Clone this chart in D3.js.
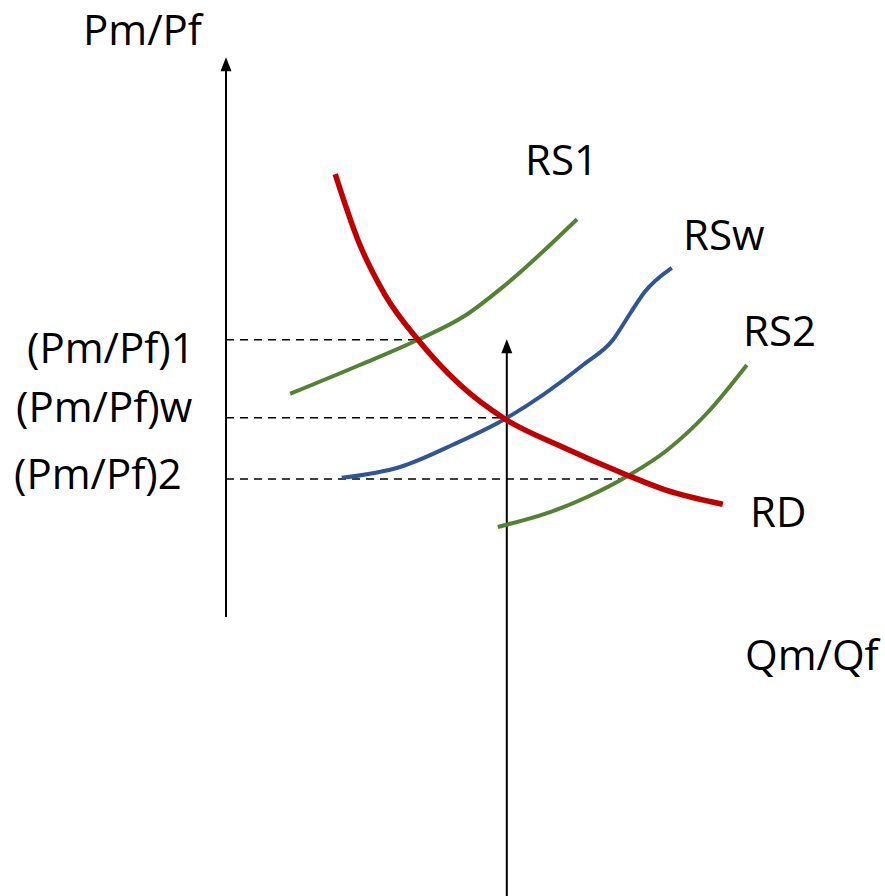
<!DOCTYPE html>
<html lang="en">
<head>
    <meta charset="UTF-8">
    <title>Relative supply and demand</title>
    <script src="https://d3js.org/d3.v7.min.js"></script>
    <style>
        body { margin: 0; background: #fff; }
        text { font-family: "Open Sans", sans-serif; font-size: 42px; fill: #000; }
    </style>
</head>
<body>
<svg id="chart" width="885" height="896"></svg>

<script>
    // curves, in chart units (Qm/Qf, Pm/Pf)
    const rd  = [[18.2,73.8],[22,62.8],[26.5,53.7],[32,46.2],[39,38.7],[46.5,33],[55.7,28.5],[66.5,23.8],[73.2,21.2],[82.8,18.8]];
    const rs1 = [[10.7,37.2],[22.3,42],[32,46.2],[39.8,50.2],[46.5,55.3],[58.5,66.3]];
    const rsw = [[19.3,23.2],[29,25],[37.8,28.7],[46.5,33],[59.5,42],[64.5,46.2],[67.3,50.5],[69.8,54.2],[74.3,58.2]];
    const rs2 = [[45.3,15],[53.5,17.3],[60.2,20],[67.3,23.7],[73.5,27.8],[80.2,34],[86.8,42]];

    // equilibrium price levels and where the dashed guide stops
    const levels = ["(Pm/Pf)1", "(Pm/Pf)w", "(Pm/Pf)2"];
    const levelY = [46.2, 33.2, 23];
    const levelX = [32, 46.5, 66.5];

    const curveNames = ["RS1", "RSw", "RS2", "RD"];

    const width = 885, height = 896;
    const svg = d3.select("#chart");

    const x = d3.scaleLinear().domain([0, 110]).range([226, 886]);
    const y = d3.scaleLinear().domain([0, 100]).range([617, 17]);

    // vertical axes drawn as lines with an arrow head
    function axisLine(xv, y0, y1) {
        svg.append("line")
            .attr("x1", x(xv)).attr("x2", x(xv))
            .attr("y1", y(y0)).attr("y2", y(y1) + 10)
            .attr("stroke", "#000").attr("stroke-width", 2);
        const tx = x(xv), ty = y(y1);
        svg.append("path")
            .attr("d", `M${tx},${ty} L${tx - 5.5},${ty + 14} L${tx + 5.5},${ty + 14} Z`)
            .attr("fill", "#000");
    }
    axisLine(0, 0, 93.3);
    axisLine(46.8, -46.5, 46.3);

    // dashed guides
    svg.selectAll(".guide")
        .data(levelY)
        .enter().append("line")
        .attr("class", "guide")
        .attr("x1", x(0))
        .attr("x2", (d, i) => x(levelX[i]))
        .attr("y1", d => y(d)).attr("y2", d => y(d))
        .attr("stroke", "#000")
        .attr("stroke-width", 1.6)
        .attr("stroke-dasharray", "8,6");

    const line = d3.line()
        .x(d => x(d[0]))
        .y(d => y(d[1]))
        .curve(d3.curveMonotoneX);

    const series = [
        { data: rs1, color: "#548235", w: 4 },
        { data: rsw, color: "#2F5597", w: 4 },
        { data: rs2, color: "#548235", w: 4 },
        { data: rd,  color: "#C00000", w: 5.5 }
    ];
    svg.selectAll(".curve")
        .data(series)
        .enter().append("path")
        .attr("class", "curve")
        .attr("d", d => line(d.data))
        .attr("fill", "none")
        .attr("stroke", d => d.color)
        .attr("stroke-width", d => d.w);

    // curve labels
    const curveLabelPos = [[525, 175], [683, 250], [743, 346], [750, 527]];
    svg.selectAll(".clabel")
        .data(curveNames)
        .enter().append("text")
        .attr("class", "clabel")
        .attr("x", (d, i) => curveLabelPos[i][0])
        .attr("y", (d, i) => curveLabelPos[i][1])
        .text(d => d);

    // level labels
    const levelLabelPos = [[27, 363], [16, 422], [14, 489]];
    svg.selectAll(".llabel")
        .data(levels)
        .enter().append("text")
        .attr("class", "llabel")
        .attr("x", (d, i) => levelLabelPos[i][0])
        .attr("y", (d, i) => levelLabelPos[i][1])
        .text(d => d);

    // axis titles
    svg.append("text").attr("x", 83).attr("y", 45).text("Pm/Pf");
    svg.append("text").attr("x", 745).attr("y", 670).text("Qm/Qf");
</script>
</body>
</html>
